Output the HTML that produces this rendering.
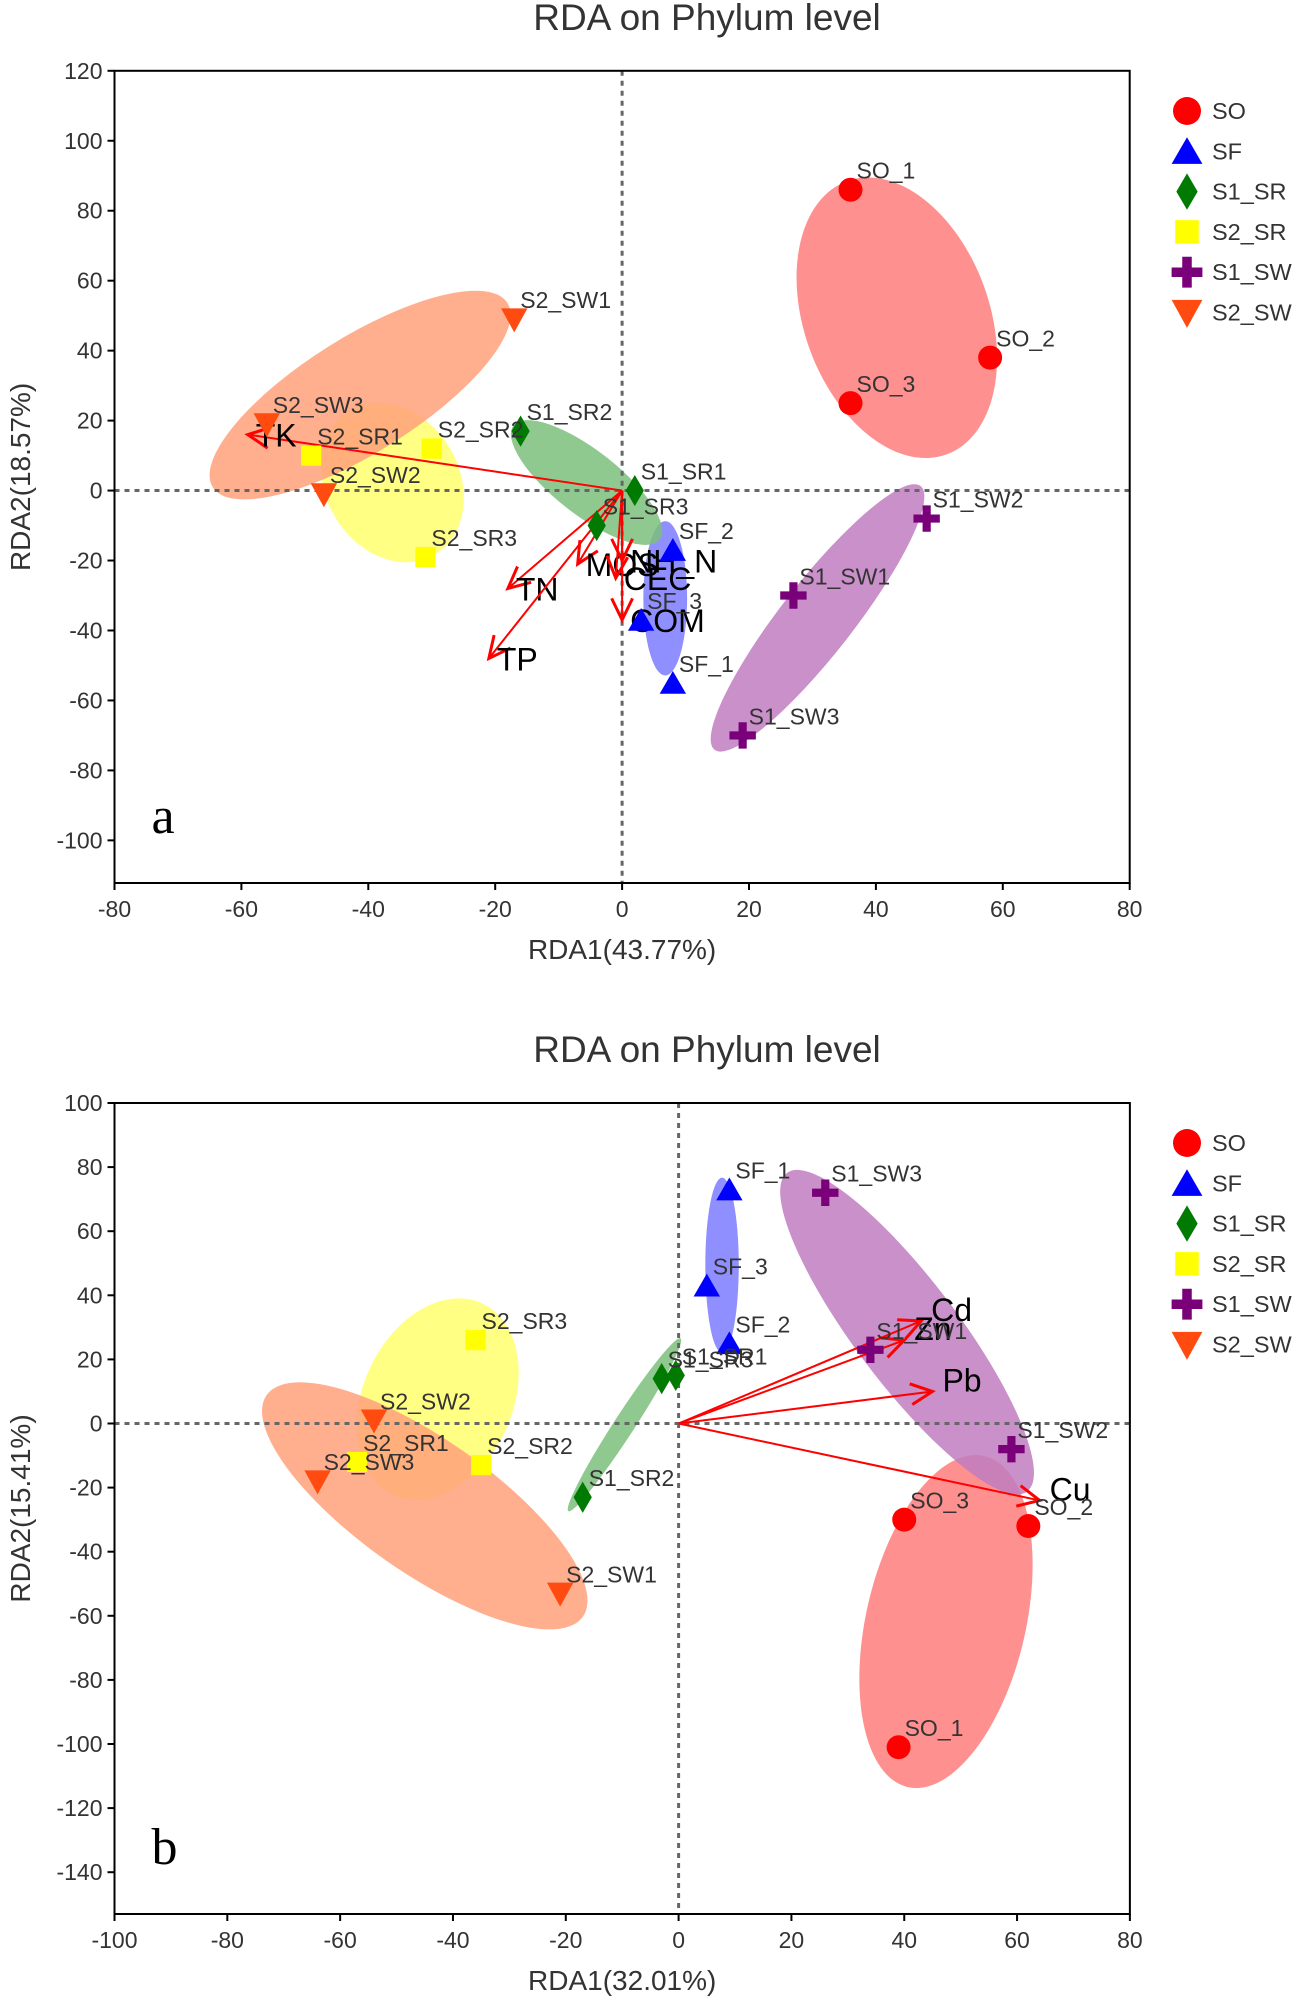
<!DOCTYPE html>
<html><head><meta charset="utf-8"><style>
html,body{margin:0;padding:0;background:#fff;}
svg{display:block;font-family:"Liberation Sans",Arial,sans-serif;}
</style></head><body>
<svg id="root" xmlns="http://www.w3.org/2000/svg" width="1300" height="2012" viewBox="0 0 1300 2012"></svg>
<script>
// ---------- Chart A data ----------
const groupsA = ["SO","SF","S1_SR","S2_SR","S1_SW","S2_SW"];
const samplesA = ["SO_1","SO_2","SO_3","SF_1","SF_2","SF_3","S1_SR1","S1_SR2","S1_SR3","S2_SR1","S2_SR2","S2_SR3","S1_SW1","S1_SW2","S1_SW3","S2_SW1","S2_SW2","S2_SW3"];
const sampleGroupA = [0,0,0,1,1,1,2,2,2,3,3,3,4,4,4,5,5,5];
const rda1A = [36,58,36,8,8,3,2,-16,-4,-49,-30,-31,27,48,19,-17,-47,-56];
const rda2A = [86,38,25,-55,-17,-37,0,17,-10,10,12,-19,-30,-8,-70,49,-1,19];
const envNamesA = ["TK","TN","TP","MOS","CEC","NH4_N","COM"];
const envLabelsA = ["TK","TN","TP","MOS","CEC","NH_N","COM"];
const envXA = [-59,-18,-21,-7,-1,0,0];
const envYA = [16,-28,-48,-21,-25,-20,-37];
const ellCxA = [43.3,6.8,-5.6,-36.2,30.8,-41.3];
const ellCyA = [49.4,-30.8,2.3,2.3,-36.4,27.3];
const xTicksA = [-80,-60,-40,-20,0,20,40,60,80];
const yTicksA = [120,100,80,60,40,20,0,-20,-40,-60,-80,-100];

// ---------- Chart B data ----------
const samplesB = ["SO_1","SO_2","SO_3","SF_1","SF_2","SF_3","S1_SR1","S1_SR2","S1_SR3","S2_SR1","S2_SR2","S2_SR3","S1_SW1","S1_SW2","S1_SW3","S2_SW1","S2_SW2","S2_SW3"];
const sampleGroupB = [0,0,0,1,1,1,2,2,2,3,3,3,4,4,4,5,5,5];
const rda1B = [39,62,40,9,9,5,-0.5,-17,-3,-57,-35,-36,34,59,26,-21,-54,-64];
const rda2B = [-101,-32,-30,73,25,43,15,-23,14,-12,-13,26,23,-8,72,-53,1,-18];
const envNamesB = ["Cd","Zn","Pb","Cu"];
const envXB = [43,40,45,64];
const envYB = [32,26,10,-24];
const ellCxB = [47.4,7.7,-9.6,-42.7,40.5,-45];
const ellCyB = [-61.8,49.4,-0.4,7.6,28.5,-25.7];
const xTicksB = [-100,-80,-60,-40,-20,0,20,40,60,80];
const yTicksB = [100,80,60,40,20,0,-20,-40,-60,-80,-100,-120,-140];

const markerColors = ["#ff0000","#0000ff","#007a00","#ffff00","#7a007a","#ff4a10"];
const ellColors = ["#ff7c7c","#7b7bff","#7cbf7c","#ffff6e","#c07cc0","#ffa07a"];

const NS="http://www.w3.org/2000/svg";
const root=document.getElementById('root');
function mk(tag,attrs,parent){const e=document.createElementNS(NS,tag);for(const k in attrs)e.setAttribute(k,attrs[k]);(parent||root).appendChild(e);return e;}

function marker(g,gi,cx,cy,s,parent){
  const c=markerColors[gi];let e;
  if(gi===0) e=mk('circle',{cx:cx,cy:cy,r:s*0.5,fill:c},parent);
  else if(gi===1) e=mk('polygon',{points:`${cx},${cy-s*0.5} ${cx+s*0.55},${cy+s*0.45} ${cx-s*0.55},${cy+s*0.45}`,fill:c},parent);
  else if(gi===2) e=mk('polygon',{points:`${cx},${cy-s*0.65} ${cx+s*0.38},${cy} ${cx},${cy+s*0.65} ${cx-s*0.38},${cy}`,fill:c},parent);
  else if(gi===3) e=mk('rect',{x:cx-s*0.42,y:cy-s*0.42,width:s*0.84,height:s*0.84,fill:c},parent);
  else if(gi===4) e=mk('path',{d:`M${cx-s*0.17},${cy-s*0.55}h${s*0.34}v${s*0.38}h${s*0.38}v${s*0.34}h${-s*0.38}v${s*0.38}h${-s*0.34}v${-s*0.38}h${-s*0.38}v${-s*0.34}h${s*0.38}z`,fill:c},parent);
  else e=mk('polygon',{points:`${cx-s*0.55},${cy-s*0.45} ${cx+s*0.55},${cy-s*0.45} ${cx},${cy+s*0.55}`,fill:c},parent);
  return e;
}

function drawChart(cfg){
  const X=v=>cfg.x0+(v-cfg.xmin)*cfg.kx;
  const Y=v=>cfg.y0+(cfg.ymax-v)*cfg.ky;
  const L=X(cfg.xmin),R=X(cfg.xmax),T=Y(cfg.ymax),B=cfg.bottom;
  const g=mk('g',{});
  
  
  const t=mk('text',{x:707,y:cfg.titleY,'font-size':37,'text-anchor':'middle',fill:'#333'},g);
  t.textContent='RDA on Phylum level';
  
  
  for(let i=0;i<6;i++){
    const e=cfg.ell[i];
    const el=mk('ellipse',{cx:0,cy:0,rx:e[0],ry:e[1],fill:ellColors[i],'fill-opacity':0.85,transform:`translate(${X(cfg.ecx[i])},${Y(cfg.ecy[i])}) rotate(${e[2]})`},g);
    
    
  }
  mk('line',{x1:L,x2:R,y1:Y(0),y2:Y(0),stroke:'#666','stroke-width':3,'stroke-dasharray':'5,5'},g);
  mk('line',{x1:X(0),x2:X(0),y1:T,y2:B,stroke:'#666','stroke-width':3,'stroke-dasharray':'5,5'},g);
  for(let i=0;i<cfg.envX.length;i++){
    const x1=X(0),y1=Y(0),x2=X(cfg.envX[i]),y2=Y(cfg.envY[i]);
    const a=Math.atan2(y2-y1,x2-x1),h=24,w=0.45;
    const ar=mk('g',{},g);
    
    
    mk('line',{x1:x1,y1:y1,x2:x2,y2:y2,stroke:'#f00','stroke-width':2},ar);
    mk('polyline',{points:`${x2-h*Math.cos(a-w)},${y2-h*Math.sin(a-w)} ${x2},${y2} ${x2-h*Math.cos(a+w)},${y2-h*Math.sin(a+w)}`,fill:'none',stroke:'#f00','stroke-width':3},ar);
    const lt=mk('text',{x:x2+cfg.envDx,y:y2+cfg.envDy,'font-size':32,fill:'#000'},ar);
    lt.textContent=cfg.envLabels[i];
    
    
  }
  for(let i=0;i<cfg.samples.length;i++){
    const px=X(cfg.rx[i]),py=Y(cfg.ry[i]);
    const m=marker(g,cfg.sg[i],px,py,24,g);
    
    
    const lt=mk('text',{x:px+6,y:py-11,'font-size':23,fill:'#333'},g);
    lt.textContent=cfg.samples[i];
    
    
  }
  const fr=mk('rect',{x:L,y:T,width:R-L,height:B-T,fill:'none',stroke:'#000','stroke-width':2},g);
  
  
  for(const v of cfg.xt){
    mk('line',{x1:X(v),x2:X(v),y1:B,y2:B+7,stroke:'#000','stroke-width':2},g);
    const tt=mk('text',{x:X(v),y:B+34,'font-size':23,'text-anchor':'middle',fill:'#333'},g);
    tt.textContent=v;
    
    
  }
  for(const v of cfg.yt){
    mk('line',{x1:L-7,x2:L,y1:Y(v),y2:Y(v),stroke:'#000','stroke-width':2},g);
    const tt=mk('text',{x:L-12,y:Y(v)+8,'font-size':23,'text-anchor':'end',fill:'#333'},g);
    tt.textContent=v;
    
    
  }
  const xl=mk('text',{x:(L+R)/2,y:B+76,'font-size':28,'text-anchor':'middle',fill:'#333'},g);
  xl.textContent=cfg.xlabel;
  
  
  const yl=mk('text',{x:0,y:0,'font-size':28,'text-anchor':'middle',fill:'#333',transform:`translate(30,${(T+B)/2}) rotate(-90)`},g);
  yl.textContent=cfg.ylabel;
  
  
  const pl=mk('text',{x:L+37,y:B-50,'font-size':52,fill:'#000','font-family':'Liberation Serif, serif'},g);
  pl.textContent=cfg.id==='a'?'a':'b';
  
  
  for(let i=0;i<6;i++){
    const ly=cfg.legY+i*40.3;
    const le=mk('g',{},g);
    
    
    marker(le,i,1187,ly,28,le);
    const lt=mk('text',{x:1212,y:ly+8,'font-size':23.5,fill:'#333'},le);
    lt.textContent=groupsA[i];
  }
}

const S=1.287;
drawChart({id:'a',x0:114.5,xmin:-80,xmax:80,kx:6.345,y0:70.8,ymax:120,ky:3.498,bottom:883,titleY:30,
  samples:samplesA,sg:sampleGroupA,rx:rda1A,ry:rda2A,envX:envXA,envY:envYA,envNames:envNamesA,envLabels:envLabelsA,envDx:8,envDy:12,
  ecx:ellCxA,ecy:ellCyA,
  ell:[[113*S,72*S,70],[60*S,17*S,90],[72*S,25*S,38],[65*S,52*S,60],[130*S,28*S,-52],[135*S,45*S,-32]],
  xt:xTicksA,yt:yTicksA,xlabel:'RDA1(43.77%)',ylabel:'RDA2(18.57%)',legY:111});
drawChart({id:'b',x0:114.5,xmin:-100,xmax:80,kx:5.641,y0:1103,ymax:100,ky:3.205,bottom:1914,titleY:1062,
  samples:samplesB,sg:sampleGroupB,rx:rda1B,ry:rda2B,envX:envXB,envY:envYB,envNames:envNamesB,envLabels:envNamesB,envDx:10,envDy:0,
  ecx:ellCxB,ecy:ellCyB,
  ell:[[132*S,62*S,-77],[68*S,13*S,90],[80*S,8*S,-57],[82*S,58*S,-65],[155*S,40*S,53],[150*S,52*S,35]],
  xt:xTicksB,yt:yTicksB,xlabel:'RDA1(32.01%)',ylabel:'RDA2(15.41%)',legY:1143});
</script>
</body></html>
